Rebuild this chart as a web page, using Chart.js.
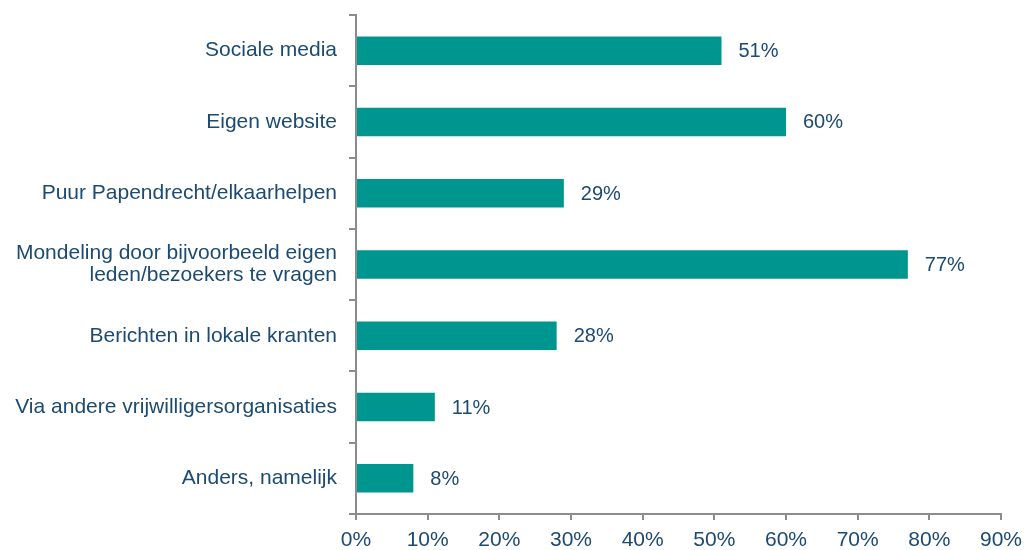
<!DOCTYPE html>
<html>
<head>
<meta charset="utf-8">
<script src="https://cdn.jsdelivr.net/npm/chart.js@4/dist/chart.umd.min.js"></script>
<style>
  html, body { margin: 0; padding: 0; background: #fff; }
  #wrap { width: 1024px; height: 550px; }
</style>
</head>
<body>
<div id="wrap"><canvas id="barChart" width="1024" height="550"></canvas></div>
<script>
const categories = [
    "Sociale media",
    "Eigen website",
    "Puur Papendrecht/elkaarhelpen",
    ["Mondeling door bijvoorbeeld eigen", "leden/bezoekers te vragen"],
    "Berichten in lokale kranten",
    "Via andere vrijwilligersorganisaties",
    "Anders, namelijk"
];
const percentages = [51, 60, 29, 77, 28, 11, 8];
const xTicks = [0, 10, 20, 30, 40, 50, 60, 70, 80, 90];

const textColor = "#1b4a72";
const axisColor = "#8c8c8c";
const barColor = "#009690";
const fontFamily = "'Liberation Sans', Arial, sans-serif";

// draws the "51%" labels next to each bar
const valueLabels = {
    id: "valueLabels",
    afterDatasetsDraw(chart) {
        const ctx = chart.ctx;
        const meta = chart.getDatasetMeta(0);
        ctx.save();
        ctx.font = "20px " + fontFamily;
        ctx.fillStyle = textColor;
        ctx.textAlign = "left";
        ctx.textBaseline = "middle";
        meta.data.forEach((bar, i) => {
            ctx.fillText(percentages[i] + "%", bar.x + 17, bar.y + 1);
        });
        ctx.restore();
    }
};

function createBarChart(chartId) {
    var ctx = document.getElementById(chartId).getContext("2d");
    return new Chart(ctx, {
        type: "bar",
        data: {
            labels: categories,
            datasets: [{
                data: percentages,
                backgroundColor: barColor,
                borderWidth: 0,
                barPercentage: 0.4,
                categoryPercentage: 1.0
            }]
        },
        options: {
            indexAxis: "y",
            responsive: false,
            animation: false,
            layout: { padding: { top: 15, right: 23, left: 0, bottom: 0 } },
            plugins: {
                legend: { display: false },
                tooltip: { enabled: false }
            },
            scales: {
                x: {
                    min: 0,
                    max: 90,
                    afterBuildTicks(scale) {
                        scale.ticks = xTicks.map(v => ({ value: v }));
                    },
                    afterFit(scale) {
                        scale.height = 36;
                        scale.paddingRight = 0;
                    },
                    ticks: {
                        color: textColor,
                        font: { size: 21, family: fontFamily },
                        padding: 8,
                        maxRotation: 0,
                        callback: v => v + "%"
                    },
                    grid: {
                        drawOnChartArea: false,
                        drawTicks: true,
                        tickLength: 6,
                        color: axisColor,
                        lineWidth: 2
                    },
                    border: { color: axisColor, width: 2 }
                },
                y: {
                    afterFit(scale) {
                        scale.width = 356;
                        scale.paddingTop = 0;
                        scale.paddingBottom = 0;
                    },
                    ticks: {
                        color: textColor,
                        font: { size: 21, family: fontFamily, lineHeight: 1.05 },
                        padding: 12
                    },
                    grid: {
                        offset: true,
                        drawOnChartArea: false,
                        drawTicks: true,
                        tickLength: 7,
                        color: axisColor,
                        lineWidth: 2
                    },
                    border: { color: axisColor, width: 2 }
                }
            }
        },
        plugins: [valueLabels]
    });
}

createBarChart("barChart");
</script>
</body>
</html>
